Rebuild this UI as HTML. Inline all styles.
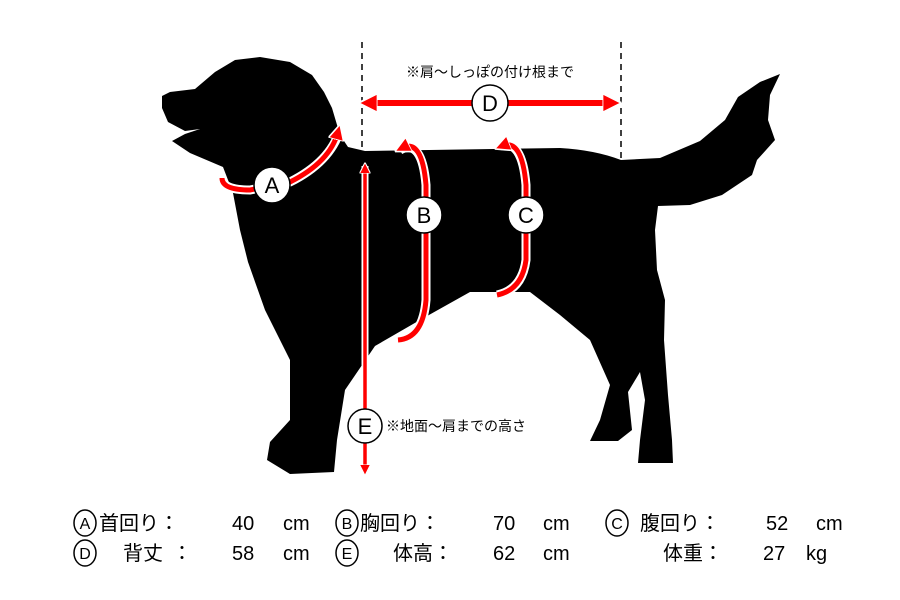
<!DOCTYPE html>
<html><head><meta charset="utf-8"><style>
body{margin:0;background:#fff;width:900px;height:600px;overflow:hidden}
svg{display:block}
text{font-family:"Liberation Sans","Noto Sans CJK JP",sans-serif}
</style></head><body>
<svg width="900" height="600" viewBox="0 0 900 600">
<defs>
<marker id="ah" viewBox="0 0 10 10" refX="5" refY="5" markerWidth="3.2" markerHeight="3.2" orient="auto-start-reverse"><path d="M0,0 L10,5 L0,10 z" fill="#f00" stroke="#fff" stroke-width="1"/></marker>
</defs>
<path fill="#000" d="M162,96 L170,92 L195,89 L215,72 L235,60 L260,57 L290,62 L312,75 L324,92 L332,108 L340,135 L348,147 L365,151 L560,148 Q595,150 621,160 L660,158 L700,141 L725,120 L738,97 L760,82 L780,74 L770,95 L768,120 L775,140 L757,160 L752,175 L722,195 L690,205 L658,206 L655,230 L657,270 L665,300 L664,340 L668,395 L672,440 L673,463 L638,463 L640,440 L645,400 L640,372 L628,392 L632,430 L618,441 L590,441 L600,420 L610,385 L590,340 L560,315 L530,292 L470,292 L420,320 L375,346 L345,390 L337,440 L334,472 L290,474 L267,460 L270,442 L290,420 L290,360 L265,310 L248,262 L240,230 L233,193 L223,167 L190,153 L172,141 L185,134 L200,129 L185,131 L168,122 L162,108 Z"/>
<!-- dashed guides -->
<line x1="362" y1="42" x2="362" y2="152" stroke="#000" stroke-width="1.5" stroke-dasharray="6,5"/>
<line x1="621" y1="42" x2="621" y2="160" stroke="#000" stroke-width="1.5" stroke-dasharray="6,5"/>
<text x="490" y="77" font-size="14" text-anchor="middle" fill="#000">※肩〜しっぽの付け根まで</text>
<!-- D -->
<line x1="368" y1="103" x2="612" y2="103" stroke="#f00" stroke-width="6" marker-start="url(#ah)" marker-end="url(#ah)"/>
<!-- E -->
<line x1="365" y1="166" x2="365" y2="472" stroke="#fff" stroke-width="7"/>
<line x1="365" y1="168" x2="365" y2="470" stroke="#f00" stroke-width="3.5" marker-start="url(#ah)" marker-end="url(#ah)"/>
<!-- A -->
<path d="M222,178 Q222,190 250,190 L290,182 Q330,162 340,130" fill="none" stroke="#fff" stroke-width="9"/>
<path d="M222,178 Q222,190 250,190 L290,182 Q330,162 338,132" fill="none" stroke="#f00" stroke-width="5" marker-end="url(#ah)"/>
<!-- B -->
<path d="M400,150 Q422,138 426,185 L426,300 Q423,338 398,340" fill="none" stroke="#fff" stroke-width="9"/>
<path d="M402,148 Q422,138 426,185 L426,300 Q423,338 398,340" fill="none" stroke="#f00" stroke-width="5" marker-start="url(#ah)"/>
<!-- C -->
<path d="M500,146 Q522,138 526,185 L526,260 Q522,290 497,295" fill="none" stroke="#fff" stroke-width="9"/>
<path d="M502,146 Q522,138 526,185 L526,260 Q522,290 497,295" fill="none" stroke="#f00" stroke-width="5" marker-start="url(#ah)"/>
<!-- circles -->
<g stroke="#000" stroke-width="1.5" fill="#fff">
<circle cx="272" cy="185" r="18"/><circle cx="424" cy="215" r="18"/><circle cx="526" cy="215" r="18"/><circle cx="490" cy="103" r="18"/><circle cx="365" cy="426" r="17"/>
</g>
<g font-size="22" text-anchor="middle" fill="#000">
<text x="272" y="193">A</text><text x="424" y="223">B</text><text x="526" y="223">C</text><text x="490" y="111">D</text><text x="365" y="434">E</text>
</g>
<text x="386" y="431" font-size="14" fill="#000">※地面〜肩までの高さ</text>
<!-- legend -->
<g stroke="#000" stroke-width="1.5" fill="none">
<ellipse cx="85" cy="523" rx="11" ry="13"/><ellipse cx="347" cy="523" rx="11" ry="13"/><ellipse cx="617" cy="523" rx="11" ry="13"/>
<ellipse cx="85" cy="553" rx="11" ry="13"/><ellipse cx="347" cy="553" rx="11" ry="13"/>
</g>
<g font-size="16" text-anchor="middle" fill="#000">
<text x="85" y="529">A</text><text x="347" y="529">B</text><text x="617" y="529">C</text><text x="85" y="559">D</text><text x="347" y="559">E</text>
</g>
<g font-size="20" fill="#000">
<text x="99" y="530">首回り：</text><text x="232" y="530">40</text><text x="283" y="530">cm</text>
<text x="360" y="530">胸回り：</text><text x="493" y="530">70</text><text x="543" y="530">cm</text>
<text x="640" y="530">腹回り：</text><text x="766" y="530">52</text><text x="816" y="530">cm</text>
<text x="123" y="560">背丈</text><text x="172" y="560">：</text><text x="232" y="560">58</text><text x="283" y="560">cm</text>
<text x="393" y="560">体高：</text><text x="493" y="560">62</text><text x="543" y="560">cm</text>
<text x="663" y="560">体重：</text><text x="763" y="560">27</text><text x="806" y="560">kg</text>
</g>
</svg>
</body></html>
